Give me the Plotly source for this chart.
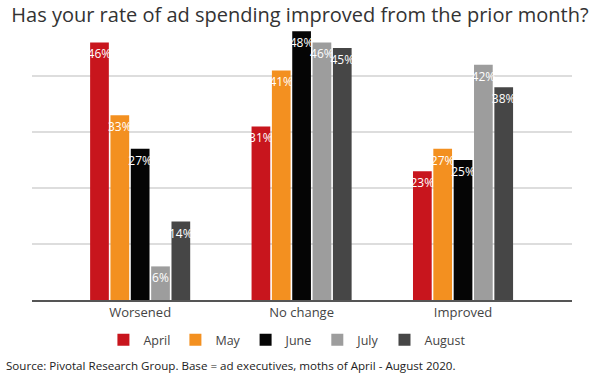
import plotly.graph_objects as go

categories = ["Worsened", "No change", "Improved"]
months = ["April", "May", "June", "July", "August"]
values = {
    "April": [46, 31, 23],
    "May": [33, 41, 27],
    "June": [27, 48, 25],
    "July": [6, 46, 42],
    "August": [14, 45, 38],
}
colors = {
    "April": "#c8151d",
    "May": "#f39020",
    "June": "#050505",
    "July": "#9d9d9d",
    "August": "#464646",
}

fig = go.Figure()
for m in months:
    fig.add_trace(go.Bar(
        name=m, x=categories, y=values[m],
        marker=dict(color=colors[m], line=dict(width=0)),
        text=[f"{v}%" for v in values[m]],
        textposition="inside", insidetextanchor="end",
        textfont=dict(family="Open Sans", size=12, color="white"),
        textangle=0, cliponaxis=False,
    ))

fig.update_layout(
    width=600, height=375,
    margin=dict(l=32, r=28, t=20, b=75, autoexpand=False),
    paper_bgcolor="white", plot_bgcolor="white",
    barmode="group", bargap=0.37, bargroupgap=0.08,
    uniformtext=dict(minsize=12, mode="show"),
    title=dict(text="Has your rate of ad spending improved from the prior month?",
               x=0.5, xanchor="center", yref="container", y=1 - 15 / 375, yanchor="middle",
               font=dict(family="Open Sans", size=20, color="#333333")),
    font=dict(family="Open Sans", color="#444444"),
    xaxis=dict(range=[-0.67, 2.675], showline=True, linecolor="#555555", linewidth=1.5,
               tickfont=dict(size=13, color="#444444"), ticks=""),
    yaxis=dict(range=[0, 50], tickvals=[0, 10, 20, 30, 40], showticklabels=False,
               showgrid=True, gridcolor="#dddddd", gridwidth=1.5, zeroline=False),
    legend=dict(orientation="h", x=0.473, xanchor="center", yref="container",
                y=1 - 340 / 375, yanchor="middle",
                font=dict(size=12.5, color="#444444"), itemwidth=30,
                traceorder="normal"),
    showlegend=True,
)
fig.add_annotation(
    text="Source: Pivotal Research Group. Base = ad executives, moths of April - August 2020.",
    xref="paper", yref="paper", x=-28 / 540, y=-(365 - 300) / 280, xanchor="left", yanchor="middle",
    showarrow=False, font=dict(family="Open Sans", size=11.6, color="#222222"),
)
fig.write_html("out.html", post_script="document.body.style.margin='0';",
               config={"displayModeBar": False})
